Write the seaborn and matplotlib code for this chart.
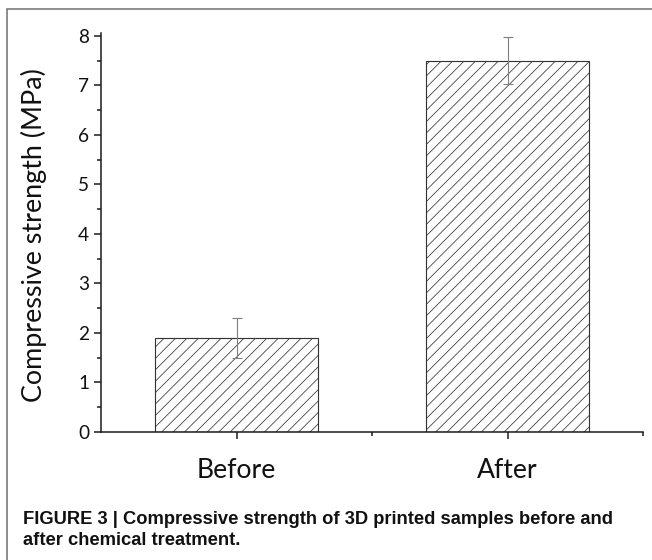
import numpy as np
import pandas as pd
import matplotlib
matplotlib.use('Agg')
import matplotlib.pyplot as plt
import seaborn as sns
from matplotlib.patches import Rectangle
from matplotlib.ticker import MultipleLocator, FixedLocator

# data
groups = ['Before', 'After']
strength = [1.9, 7.5]
strength_err = [0.4, 0.47]
y_ticks = [0, 1, 2, 3, 4, 5, 6, 7, 8]

caption_1 = 'FIGURE 3 | Compressive strength of 3D printed samples before and'
caption_2 = 'after chemical treatment.'

DPI = 137
W, H = 652, 560

sns.set_style('white')
plt.rcParams['font.family'] = ['Lato', 'DejaVu Sans']
plt.rcParams['hatch.linewidth'] = 0.4

df = pd.DataFrame({'group': groups, 'strength': strength})

fig = plt.figure(figsize=(W / DPI, H / DPI), dpi=DPI)
ax = fig.add_axes([101 / W, 1 - 432 / H, 542 / W, 399 / H])

sns.barplot(data=df, x='group', y='strength', ax=ax, color='white',
            edgecolor='#333333', linewidth=0.6, width=0.6, hatch='////',
            errorbar=None)
ax.errorbar(np.arange(len(groups)), strength, yerr=strength_err, fmt='none',
            ecolor='#808080', elinewidth=0.6, capsize=2.4, capthick=0.6)

ax.set_xlim(-0.5, 1.5)
ax.set_ylim(0, 8.06)
ax.set_yticks(y_ticks)
ax.yaxis.set_minor_locator(MultipleLocator(0.5))
ax.xaxis.set_minor_locator(FixedLocator([0.5, 1.5]))
ax.set_xlabel('')
ax.set_ylabel('')

for side in ['top', 'right']:
    ax.spines[side].set_visible(False)
for side in ['left', 'bottom']:
    ax.spines[side].set_color('#1a1a1a')
    ax.spines[side].set_linewidth(0.8)

ax.tick_params(axis='both', which='major', direction='out', length=3.7,
               width=0.8, color='#1a1a1a', left=True, bottom=True)
ax.tick_params(axis='both', which='minor', direction='out', length=2.1,
               width=0.8, color='#1a1a1a', left=True, bottom=True)
ax.tick_params(axis='y', labelsize=10, pad=2.6, labelcolor='#111111')
ax.tick_params(axis='x', labelsize=14, pad=10, labelcolor='#111111')

fig.text(34 / W, 1 - 235 / H, 'Compressive strength (MPa)', rotation=90,
         ha='center', va='center', fontsize=14.1, color='#111111')

cap_font = ['Liberation Sans Narrow', 'Liberation Sans', 'DejaVu Sans']
fig.text(23 / W, 1 - 524 / H, caption_1, family=cap_font, fontweight='bold',
         fontsize=9.7, va='baseline', color='#111111')
fig.text(23 / W, 1 - 545 / H, caption_2, family=cap_font, fontweight='bold',
         fontsize=9.7, va='baseline', color='#111111')

fig.patches.append(Rectangle((6.5 / W, -0.05), 1.5, 1.05 - 9 / H,
                             transform=fig.transFigure, fill=False,
                             edgecolor='#707070', linewidth=0.8))

fig.savefig('out.png', dpi=DPI)
